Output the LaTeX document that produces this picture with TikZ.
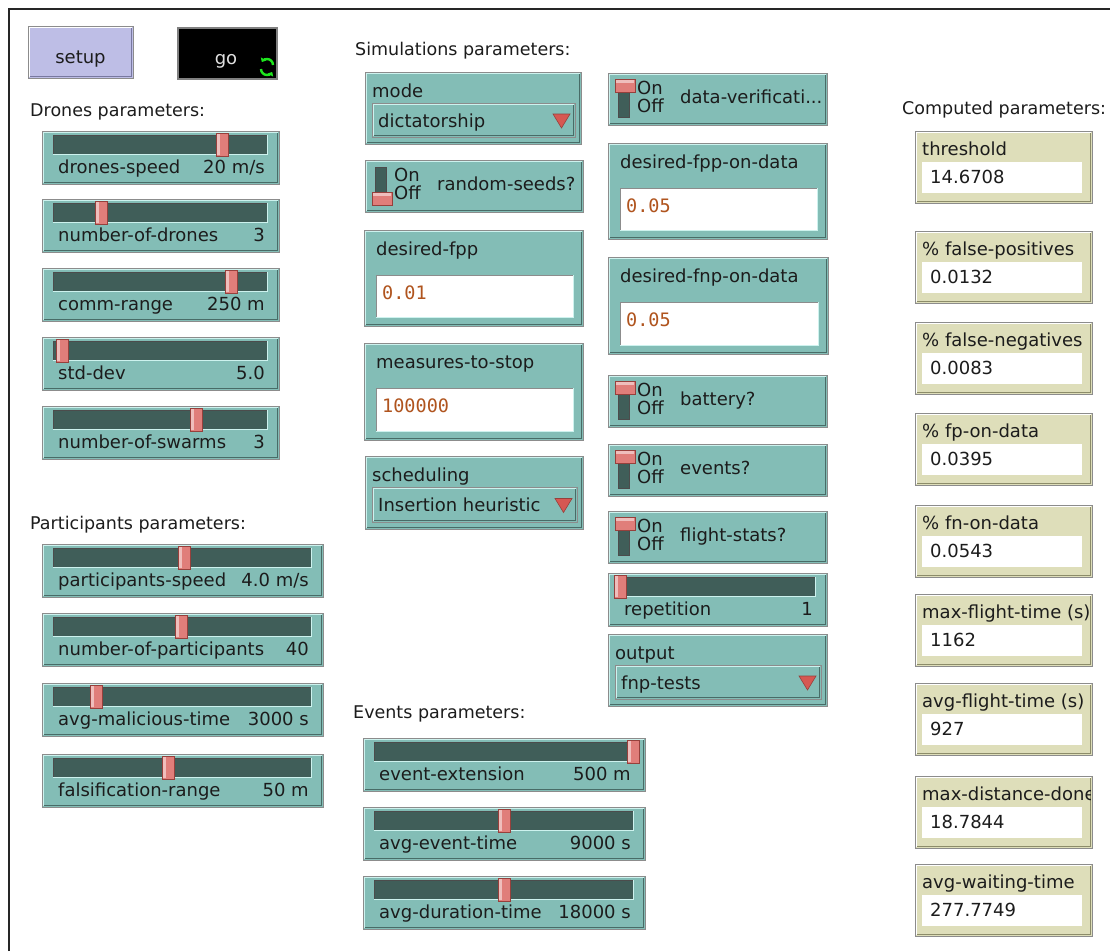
\documentclass[tikz,border=0pt]{standalone}
\usepackage{fontspec}
\setmainfont{DejaVu Sans}
\newfontfamily\monof{DejaVu Sans Mono}
\usetikzlibrary{arrows.meta}
\definecolor{wteal}{RGB}{131,189,182}
\definecolor{whigh}{RGB}{205,242,238}
\definecolor{wshade}{RGB}{72,108,103}
\definecolor{wborder}{RGB}{140,140,140}
\definecolor{wtrack}{RGB}{64,94,89}
\definecolor{wknob}{RGB}{224,126,122}
\definecolor{wknobd}{RGB}{150,64,60}
\definecolor{wlav}{RGB}{190,190,230}
\definecolor{wlavd}{RGB}{120,120,160}
\definecolor{wbeige}{RGB}{222,222,186}
\definecolor{wbeiged}{RGB}{140,140,105}
\definecolor{wtext}{RGB}{28,28,28}
\definecolor{winput}{RGB}{176,84,30}
\definecolor{wtri}{RGB}{214,88,82}
\definecolor{igreen}{RGB}{30,230,30}
\tikzset{
  lbl/.style={anchor=base west, inner sep=0pt, text=wtext, font=\fontsize{18}{21}\selectfont},
  lble/.style={lbl, anchor=base east},
  hdr/.style={lbl, font=\fontsize{17.5}{20}\selectfont},
  monoval/.style={lbl, text=winput, font=\monof\fontsize{18.5}{21}\selectfont},
}
% x1 y1 x2 y2 fill high shade
\newcommand\wbox[7]{%
  \fill[#5] ({#1},{#2}) rectangle ({#3},{#4});
  \draw[#6,line width=1.5] ({#1+1.5},{#4-1.5}) -- ({#1+1.5},{#2+1.5}) -- ({#3-1.5},{#2+1.5});
  \draw[#7,line width=1.5] ({#1+1.5},{#4-1.5}) -- ({#3-1.5},{#4-1.5}) -- ({#3-1.5},{#2+1.5});
  \draw[wborder,line width=1] ({#1},{#2}) rectangle ({#3},{#4});
}
% x1 y1 x2 knob label value name inset
\newcommand\nlslider[8]{%
  \wbox{#1}{#2}{#3}{#2+53}{wteal}{whigh}{wshade}
  \fill[wtrack] ({#1+#8},{#2+4}) rectangle ({#3-12},{#2+23});
  \draw[black!70,line width=1] ({#1+#8},{#2+23}) -- ({#1+#8},{#2+4}) -- ({#3-12},{#2+4});
  \draw[whigh,line width=1] ({#1+#8},{#2+23}) -- ({#3-12},{#2+23}) -- ({#3-12},{#2+4});
  \fill[wknob] ({#4},{#2+2}) rectangle ({#4+12},{#2+25});
  \fill[wknob!50!white] ({#4+1},{#2+3}) rectangle ({#4+4},{#2+24});
  \draw[wknobd,line width=0.8] ({#4},{#2+2}) rectangle ({#4+12},{#2+25});
  \node[lbl] (#7) at ({#1+16},{#2+42}) {#5};
  \node[lble] (#7-v) at ({#3-14},{#2+42}) {#6};
}
% x1 y1 x2 on label name
\newcommand\nlswitch[6]{%
  \wbox{#1}{#2}{#3}{#2+52}{wteal}{whigh}{wshade}
  \fill[wtrack] ({#1+10},{#2+7}) rectangle ({#1+21},{#2+44});
  \draw[black!70,line width=0.8] ({#1+10},{#2+7}) rectangle ({#1+21},{#2+44});
  \ifnum#4=1
    \fill[wknob] ({#1+7},{#2+6}) rectangle ({#1+27},{#2+19});
    \fill[wknob!50!white] ({#1+8},{#2+7}) rectangle ({#1+26},{#2+10});
    \draw[wknobd,line width=0.8] ({#1+7},{#2+6}) rectangle ({#1+27},{#2+19});
  \else
    \fill[wknob] ({#1+7},{#2+32}) rectangle ({#1+27},{#2+45});
    \fill[wknob!50!white] ({#1+8},{#2+33}) rectangle ({#1+26},{#2+36});
    \draw[wknobd,line width=0.8] ({#1+7},{#2+32}) rectangle ({#1+27},{#2+45});
  \fi
  \node[lbl] (#6-on) at ({#1+29},{#2+21}) {On};
  \node[lbl] (#6-off) at ({#1+29},{#2+39}) {Off};
  \node[lbl] (#6) at ({#1+72},{#2+30}) {#5};
}
% x1 y1 x2 y2 label value name
\newcommand\nlchooser[7]{%
  \wbox{#1}{#2}{#3}{#4}{wteal}{whigh}{wshade}
  \node[lbl] (#7) at ({#1+7},{#2+25}) {#5};
  \wbox{#1+7}{#2+31}{#3-6}{#4-7}{wteal}{whigh}{wshade}
  \node[lbl] (#7-v) at ({#1+13},{(#2+#4+24)/2+7}) {#6};
  \filldraw[fill=wtri,draw=wknobd,line width=0.6] ({#3-28},{(#2+#4+24)/2-6}) -- ({#3-11},{(#2+#4+24)/2-6}) -- ({#3-19.5},{(#2+#4+24)/2+8}) -- cycle;
}
% x1 y1 x2 y2 label value name
\newcommand\nlinput[7]{%
  \wbox{#1}{#2}{#3}{#4}{wteal}{whigh}{wshade}
  \node[lbl] (#7) at ({#1+12},{#2+25}) {#5};
  \fill[white] ({#1+12},{#2+45}) rectangle ({#3-10},{#4-9});
  \draw[black!45,line width=1] ({#1+12},{#4-9}) -- ({#1+12},{#2+45}) -- ({#3-10},{#2+45});
  \draw[whigh,line width=1] ({#1+12},{#4-9}) -- ({#3-10},{#4-9}) -- ({#3-10},{#2+45});
  \node[monoval] (#7-v) at ({#1+18},{#2+69}) {#6};
}
% y1 label value name
\newcommand\nlmonitor[4]{%
  \wbox{915}{#1}{1092}{#1+72}{wbeige}{white}{wbeiged}
  \begin{scope}
    \clip (916,{#1}) rectangle (1090.5,{#1+72});
    \node[lbl] (#4) at (922,{#1+24}) {#2};
  \end{scope}
  \fill[white] (922,{#1+31}) rectangle (1082,{#1+62});
  \node[lbl] (#4-v) at (930,{#1+52}) {#3};
}
\begin{document}
\begin{tikzpicture}[x=1pt,y=-1pt]
\useasboundingbox (0,0) rectangle (1110,951);
\fill[white] (0,0) rectangle (1110,951);
\draw[black!85,line width=2] (9,951) -- (9,9) -- (1110,9);

% buttons
\wbox{28}{26}{133}{78}{wlav}{white}{wlavd}
\node[lbl,anchor=base] (setup) at (80.5,63) {setup};
\fill[black] (177,27) rectangle (278,80);
\draw[black!50,line width=2] (178,28) rectangle (277,79);
\node[lbl,anchor=base,text=black!12] (go) at (226,64) {go};
\draw[igreen,line width=2.4,-{Triangle[length=3.5pt,width=6pt]}] (273,65) arc[start angle=0,end angle=-150,radius=6];
\draw[igreen,line width=2.4,-{Triangle[length=3.5pt,width=6pt]}] (261,69) arc[start angle=180,end angle=30,radius=6];

% headers
\node[hdr] (hdrones) at (30,116) {Drones parameters:};
\node[hdr] (hsim) at (355,55) {Simulations parameters:};
\node[hdr] (hcomp) at (902,114) {Computed parameters:};
\node[hdr] (hpart) at (30,529) {Participants parameters:};
\node[hdr] (hev) at (353,718) {Events parameters:};

% drones sliders
\nlslider{42}{131}{279}{216}{drones-speed}{20 m/s}{ds}{11}
\nlslider{42}{199}{279}{95}{number-of-drones}{3}{nd}{11}
\nlslider{42}{268}{279}{225}{comm-range}{250 m}{cr}{11}
\nlslider{42}{337}{279}{56}{std-dev}{5.0}{sd}{11}
\nlslider{42}{406}{279}{190}{number-of-swarms}{3}{ns}{11}

% participants sliders
\nlslider{42}{544}{323}{178}{participants-speed}{4.0 m/s}{ps}{11}
\nlslider{42}{613}{323}{175}{number-of-participants}{40}{np}{11}
\nlslider{42}{683}{323}{90}{avg-malicious-time}{3000 s}{amt}{11}
\nlslider{42}{754}{323}{162}{falsification-range}{50 m}{fr}{11}

% events sliders
\nlslider{363}{738}{645}{627}{event-extension}{500 m}{ee}{11}
\nlslider{363}{807}{645}{498}{avg-event-time}{9000 s}{aet}{11}
\nlslider{363}{876}{645}{498}{avg-duration-time}{18000 s}{adt}{11}

% simulation column 1
\nlchooser{365}{72}{581}{144}{mode}{dictatorship}{mode}
\nlswitch{365}{160}{583}{0}{random-seeds?}{rs}
\nlinput{364}{230}{583}{326}{desired-fpp}{0.01}{dfpp}
\nlinput{364}{343}{583}{440}{measures-to-stop}{100000}{mts}
\nlchooser{365}{456}{583}{529}{scheduling}{Insertion heuristic}{sched}

% simulation column 2
\nlswitch{608}{73}{827}{1}{data-verificati...}{dv}
\nlinput{608}{143}{827}{239}{desired-fpp-on-data}{0.05}{dfppd}
\nlinput{608}{257}{828}{354}{desired-fnp-on-data}{0.05}{dfnpd}
\nlswitch{608}{375}{827}{1}{battery?}{bat}
\nlswitch{608}{444}{827}{1}{events?}{ev}
\nlswitch{608}{511}{827}{1}{flight-stats?}{fs}
\nlslider{608}{573}{827}{614}{repetition}{1}{rep}{7}
\nlchooser{608}{634}{827}{706}{output}{fnp-tests}{out}

% monitors
\nlmonitor{131}{threshold}{14.6708}{thr}
\nlmonitor{231}{\% false-positives}{0.0132}{mfp}
\nlmonitor{322}{\% false-negatives}{0.0083}{mfn}
\nlmonitor{413}{\% fp-on-data}{0.0395}{mfpd}
\nlmonitor{505}{\% fn-on-data}{0.0543}{mfnd}
\nlmonitor{594}{max-flight-time (s)}{1162}{mft}
\nlmonitor{683}{avg-flight-time (s)}{927}{aft}
\nlmonitor{776}{max-distance-done}{18.7844}{mdd}
\nlmonitor{864}{avg-waiting-time}{277.7749}{awt}
\end{tikzpicture}
\end{document}
